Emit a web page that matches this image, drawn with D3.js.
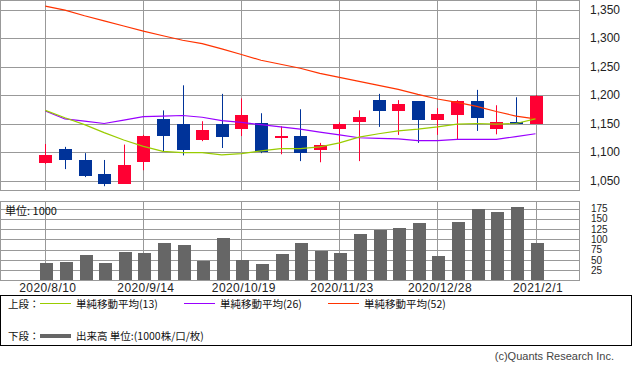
<!DOCTYPE html>
<html>
<head>
<meta charset="utf-8">
<script src="https://cdn.jsdelivr.net/npm/d3@7"></script>
<style>
  body { margin: 0; background: #fff; }
  svg { display: block; }
</style>
</head>
<body>
<svg id="chart" width="633" height="372"></svg>
<script>
// weekly candles, 2020/8/10 .. 2021/2/1
var weeks = ["2020/8/10","2020/8/17","2020/8/24","2020/8/31","2020/9/7","2020/9/14","2020/9/21","2020/9/28",
	     "2020/10/5","2020/10/12","2020/10/19","2020/10/26","2020/11/2","2020/11/9","2020/11/16","2020/11/23",
	     "2020/11/30","2020/12/7","2020/12/14","2020/12/21","2020/12/28","2021/1/4","2021/1/11","2021/1/18",
	     "2021/1/25","2021/2/1"];
var tickWeeks = ["2020/8/10","2020/9/14","2020/10/19","2020/11/23","2020/12/28","2021/2/1"];
var priceTicks = [1050, 1100, 1150, 1200, 1250, 1300, 1350];
var volTicks = [25, 50, 75, 100, 125, 150, 175];

var open  = [1080,1105,1086,1061,1044,1082,1158,1149,1121,1149,1140,1151,1124,1128,1103,1140,1152,1191,1172,1189,1156,1165,1189,1140,1152,1149];
var high  = [1114,1109,1098,1086,1113,1130,1173,1217,1154,1202,1194,1168,1145,1175,1116,1152,1173,1202,1191,1189,1177,1191,1209,1182,1196,1200];
var low   = [1079,1070,1056,1040,1044,1068,1101,1094,1119,1107,1128,1098,1096,1084,1082,1103,1084,1144,1130,1116,1130,1121,1137,1131,1149,1149];
var close = [1094,1086,1058,1044,1077,1128,1128,1103,1138,1126,1165,1100,1128,1098,1112,1149,1161,1172,1184,1156,1166,1189,1159,1152,1149,1198];

var ma13 = [1173,1160,1148,1134,1121,1110,1101,1099,1099,1095,1097,1102,1106,1106,1109,1116,1126,1132,1137,1140,1144,1149,1150,1149,1150,1158];
var ma26 = [1172,1158,1154,1150,1156,1162,1163,1164,1161,1155,1152,1148,1144,1140,1135,1130,1125,1124,1123,1120,1120,1122,1122,1122,1127,1132];
var ma52 = [1356,1349,1339,1330,1321,1312,1304,1296,1290,1281,1271,1261,1254,1247,1238,1231,1224,1217,1210,1201,1193,1187,1180,1171,1163,1158];

var volume = [43,45,62,43,70,67,91,87,48,104,50,40,65,91,72,67,113,123,128,140,60,143,174,167,179,91];

var svg = d3.select('#chart');
var gridColor = '#999';
var upColor = '#ff0033', downColor = '#003399';

var x = d3.scalePoint().domain(weeks).range([45.3, 535.5]);
var y = d3.scaleLinear().domain([1050, 1350]).range([180.5, 9.5]);
var yv = d3.scaleLinear().domain([0, 175]).range([280.5, 208.5]);

var left = 0.5, right = 579.5;

// ---- upper panel ----
var upper = svg.append('g');
upper.selectAll('line.h').data(priceTicks).enter().append('line')
    .attr('x1', left).attr('x2', right)
    .attr('y1', d => Math.round(y(d)) + 0.5).attr('y2', d => Math.round(y(d)) + 0.5)
    .attr('stroke', gridColor).attr('stroke-width', 1);
upper.selectAll('line.v').data(tickWeeks).enter().append('line')
    .attr('x1', d => Math.round(x(d)) + 0.5).attr('x2', d => Math.round(x(d)) + 0.5)
    .attr('y1', 0.5).attr('y2', 190.5)
    .attr('stroke', gridColor);
upper.append('rect').attr('x', left).attr('y', 0.5).attr('width', right - left).attr('height', 190)
    .attr('fill', 'none').attr('stroke', gridColor);

var candles = upper.selectAll('g.c').data(weeks).enter().append('g');
candles.append('line')
    .attr('x1', (d, i) => Math.round(x(d)) + 0.5).attr('x2', (d, i) => Math.round(x(d)) + 0.5)
    .attr('y1', (d, i) => y(high[i])).attr('y2', (d, i) => y(low[i]))
    .attr('stroke', (d, i) => close[i] >= open[i] ? upColor : downColor)
    .attr('stroke-width', 1);
candles.append('rect')
    .attr('x', d => Math.round(x(d)) - 6)
    .attr('width', 13)
    .attr('y', (d, i) => Math.round(y(Math.max(open[i], close[i]))))
    .attr('height', (d, i) => Math.max(2, Math.round(Math.abs(y(open[i]) - y(close[i])))))
    .attr('fill', (d, i) => close[i] >= open[i] ? upColor : downColor)
    .attr('shape-rendering', 'crispEdges');

var line = d3.line().x((d, i) => x(weeks[i])).y(d => y(d));
[[ma52, '#ff3300'], [ma26, '#9900ff'], [ma13, '#99cc00']].forEach(([s, c]) => {
    upper.append('path').datum(s)
	.attr('d', line)
	.attr('fill', 'none').attr('stroke', c).attr('stroke-width', 1.2);
});

var yAxis = upper.append('g')
    .attr('transform', `translate(${right},0)`)
    .call(d3.axisRight(y).tickValues(priceTicks).tickFormat(d3.format(',')).tickSize(0).tickPadding(10.5));
yAxis.select('.domain').remove();
yAxis.selectAll('text').attr('font-family', 'Liberation Sans, Arial, sans-serif')
    .attr('font-size', 12).attr('fill', '#222');

// ---- lower panel ----
var lower = svg.append('g');
lower.selectAll('line.h').data(volTicks).enter().append('line')
    .attr('x1', left).attr('x2', right)
    .attr('y1', d => Math.round(yv(d)) + 0.5).attr('y2', d => Math.round(yv(d)) + 0.5)
    .attr('stroke', gridColor);
lower.selectAll('line.v').data(tickWeeks).enter().append('line')
    .attr('x1', d => Math.round(x(d)) + 0.5).attr('x2', d => Math.round(x(d)) + 0.5)
    .attr('y1', 201.5).attr('y2', 280.5)
    .attr('stroke', gridColor);

lower.selectAll('rect.bar').data(weeks).enter().append('rect')
    .attr('x', d => Math.round(x(d)) - 5)
    .attr('width', 13)
    .attr('y', (d, i) => Math.round(yv(volume[i])))
    .attr('height', (d, i) => yv(0) - Math.round(yv(volume[i])))
    .attr('fill', '#666')
    .attr('shape-rendering', 'crispEdges');

lower.append('rect').attr('x', left).attr('y', 201.5).attr('width', right - left).attr('height', 79)
    .attr('fill', 'none').attr('stroke', gridColor);

var vAxis = lower.append('g')
    .attr('transform', `translate(${right},0)`)
    .call(d3.axisRight(yv).tickValues(volTicks).tickSize(0).tickPadding(11.5));
vAxis.select('.domain').remove();
vAxis.selectAll('text').attr('font-family', 'Liberation Sans, Arial, sans-serif')
    .attr('font-size', 10).attr('fill', '#222');

lower.append('text').attr('x', 5).attr('y', 215)
    .attr('font-family', 'Noto Sans CJK JP, sans-serif').attr('font-size', 11).attr('fill', '#111')
    .text('単位: 1000');

var xAxis = lower.append('g')
    .attr('transform', 'translate(0,280.5)')
    .call(d3.axisBottom(x).tickValues(tickWeeks).tickSize(0).tickPadding(3));
xAxis.select('.domain').remove();
xAxis.selectAll('text').attr('font-family', 'Liberation Sans, Arial, sans-serif')
    .attr('font-size', 12).attr('fill', '#222').attr('letter-spacing', 0.4)
    .attr('dx', 2);

// ---- legend ----
var legend = svg.append('g').attr('font-family', 'Noto Sans CJK JP, sans-serif')
    .attr('font-size', 10.5).attr('fill', '#111');
legend.append('rect').attr('x', 0.5).attr('y', 295.5).attr('width', 631).attr('height', 50)
    .attr('fill', 'none').attr('stroke', '#000');
legend.append('text').attr('x', 8).attr('y', 307.5).text('上段：');
var maLegend = [
    {label: '単純移動平均(13)', color: '#99cc00', x: 40},
    {label: '単純移動平均(26)', color: '#9900ff', x: 184},
    {label: '単純移動平均(52)', color: '#ff3300', x: 328}
];
maLegend.forEach(m => {
    legend.append('line').attr('x1', m.x).attr('x2', m.x + 31).attr('y1', 303.5).attr('y2', 303.5)
	.attr('stroke', m.color).attr('stroke-width', 1);
    legend.append('text').attr('x', m.x + 36).attr('y', 307.5).text(m.label);
});
legend.append('text').attr('x', 8).attr('y', 340).text('下段：');
legend.append('line').attr('x1', 40).attr('x2', 71).attr('y1', 336).attr('y2', 336)
    .attr('stroke', '#666').attr('stroke-width', 4);
legend.append('text').attr('x', 76).attr('y', 340).text('出来高 単位:(1000株/口/枚)');

svg.append('text').attr('x', 614).attr('y', 360).attr('text-anchor', 'end')
    .attr('font-family', 'Liberation Sans, Arial, sans-serif').attr('font-size', 11)
    .attr('fill', '#444').text('(c)Quants Research Inc.');
</script>
</body>
</html>
